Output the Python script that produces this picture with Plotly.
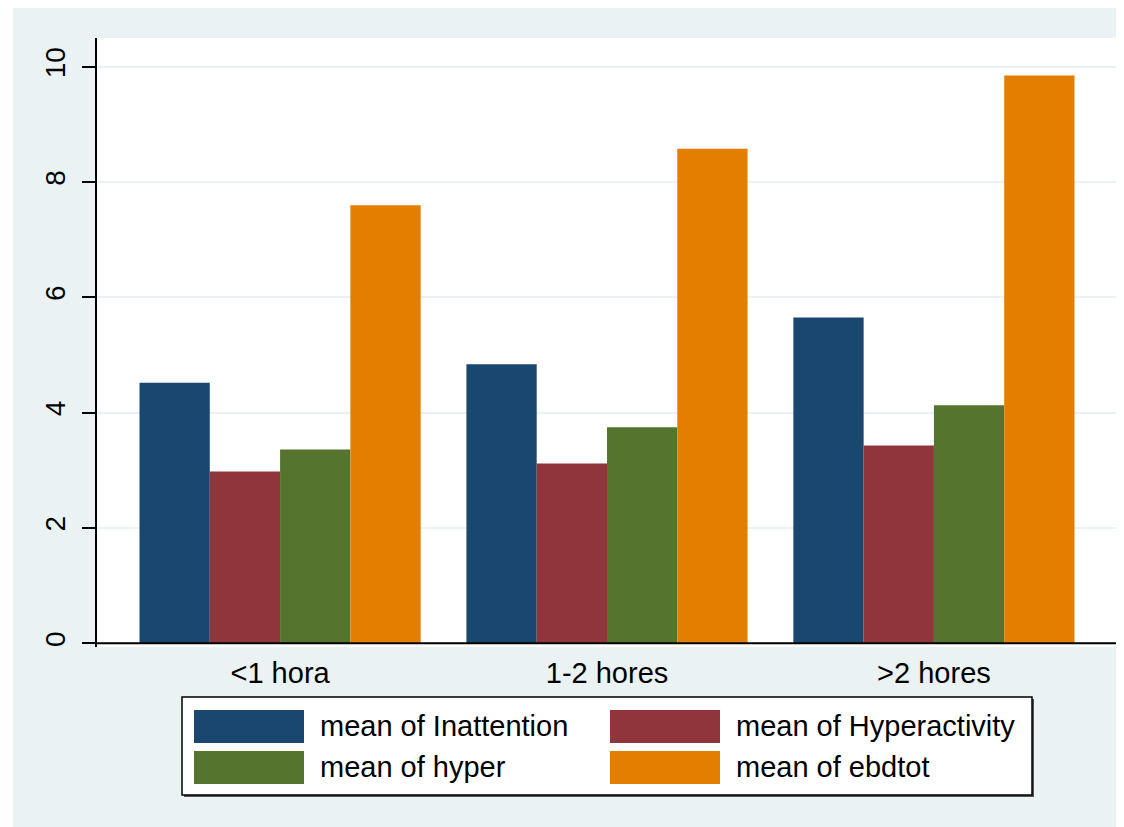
import plotly.graph_objects as go

categories = ["<1 hora", "1-2 hores", ">2 hores"]
series_names = ["mean of Inattention", "mean of Hyperactivity", "mean of hyper", "mean of ebdtot"]
inattention = [4.52, 4.84, 5.65]
hyperactivity = [2.98, 3.12, 3.43]
hyper = [3.36, 3.75, 4.13]
ebdtot = [7.60, 8.58, 9.85]
y_ticks = [0, 2, 4, 6, 8, 10]

colors = ["#1A476F", "#90353B", "#55752F", "#E37E00"]
series_values = [inattention, hyperactivity, hyper, ebdtot]

W, H = 1124, 827
OFF = 8  # page body margin
L, R, T, B = 97, 1117, 38, 647  # plot area in page pixels
FONT = "Liberation Sans, Arial, sans-serif"
FS = 29
BG = "#EAF2F3"


def px(x):
    return (x - L) / (R - L)


def py(y):
    return (B - y) / (B - T)


fig = go.Figure()
for name, vals, col in zip(series_names, series_values, colors):
    fig.add_trace(go.Bar(
        x=categories, y=vals, name=name, marker_color=col,
        marker_line_width=0, showlegend=False,
    ))

shapes = []
annotations = []

# white strip at left edge
shapes.append(dict(type="rect", xref="paper", yref="paper", x0=px(0), x1=px(13),
                   y0=py(H + 20), y1=py(0), fillcolor="white", line_width=0, layer="below"))

# zero baseline
shapes.append(dict(type="line", xref="paper", yref="y", x0=0, x1=1, y0=0, y1=0,
                   line=dict(color="black", width=2), layer="above"))

# legend box with shadow
shapes.append(dict(type="rect", xref="paper", yref="paper", x0=px(184), x1=px(1034),
                   y0=py(797), y1=py(699), fillcolor="#555555", line_width=0))
shapes.append(dict(type="rect", xref="paper", yref="paper", x0=px(182), x1=px(1032),
                   y0=py(795), y1=py(697), fillcolor="white",
                   line=dict(color="black", width=1.5)))

swatch_pos = [(194, 710), (610, 710), (194, 751), (610, 751)]
text_pos = [(318, 726), (734, 726), (318, 767), (734, 767)]
for (sx, sy), (tx, ty), name, col in zip(swatch_pos, text_pos, series_names, colors):
    shapes.append(dict(type="rect", xref="paper", yref="paper", x0=px(sx), x1=px(sx + 110),
                       y0=py(sy + 33), y1=py(sy), fillcolor=col, line_width=0))
    annotations.append(dict(xref="paper", yref="paper", x=px(tx), y=py(ty), text=name,
                            showarrow=False, xanchor="left", yanchor="middle",
                            font=dict(family=FONT, size=FS, color="black")))

fig.update_layout(
    width=W, height=H,
    margin=dict(l=L - OFF, r=W - (R - OFF), t=T - OFF, b=H - (B - OFF), pad=0),
    paper_bgcolor=BG, plot_bgcolor="white",
    barmode="group", bargap=0.14, bargroupgap=0,
    shapes=shapes, annotations=annotations,
    font=dict(family=FONT, size=FS, color="black"),
    xaxis=dict(range=[-0.56, 2.56], showgrid=False, showline=False, ticks="",
               tickfont=dict(size=FS), ticklabelstandoff=6, zeroline=False),
    yaxis=dict(range=[-0.064, 10.5], tickvals=y_ticks, ticktext=[str(v) for v in y_ticks],
               tickangle=-90, showline=True, linecolor="black", linewidth=2,
               ticks="outside", ticklen=13, tickwidth=2, tickcolor="black",
               showgrid=True, gridcolor=BG, gridwidth=1.5, zeroline=False,
               tickfont=dict(size=FS - 1), ticklabelstandoff=6),
)

fig.write_html("out.html")
